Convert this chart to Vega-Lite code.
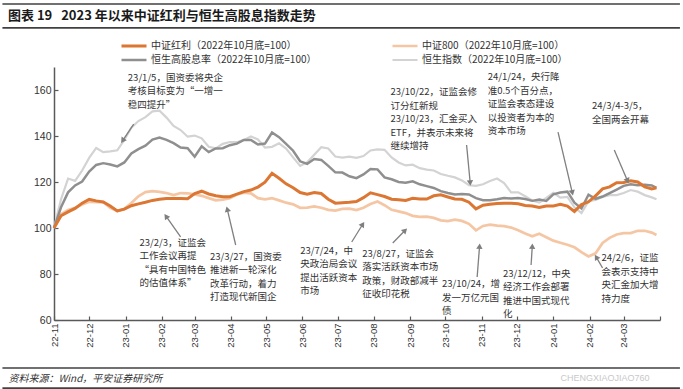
{
  "$schema": "https://vega.github.io/schema/vega-lite/v6.json",
  "width": 606,
  "height": 253,
  "autosize": {"type": "none"},
  "padding": {"left": 54, "top": 67, "right": 23, "bottom": 69},
  "background": "#ffffff",
  "config": {"view": {"stroke": null}, "font": "Noto Sans CJK SC", "axis": {"grid": false}},
  "title": {"text": "图表 19\u00a0\u00a0\u00a02023 年以来中证红利与恒生高股息指数走势", "anchor": "start", "frame": "group", "dx": -46, "dy": 23, "offset": 1, "fontSize": 13, "fontWeight": "bold", "font": "Noto Sans CJK SC", "color": "#1a1a1a"},
  "datasets": {
    "series": [
{"d":"2022-11-01","s":"恒生指数","v":100},{"d":"2022-11-07","s":"恒生指数","v":112.5},{"d":"2022-11-13","s":"恒生指数","v":121.5},{"d":"2022-11-19","s":"恒生指数","v":120.5},{"d":"2022-11-25","s":"恒生指数","v":125},{"d":"2022-12-01","s":"恒生指数","v":130.5},{"d":"2022-12-07","s":"恒生指数","v":134.8},{"d":"2022-12-13","s":"恒生指数","v":133},{"d":"2022-12-19","s":"恒生指数","v":133.3},{"d":"2022-12-25","s":"恒生指数","v":133.8},{"d":"2022-12-31","s":"恒生指数","v":138.3},{"d":"2023-01-06","s":"恒生指数","v":143.6},{"d":"2023-01-12","s":"恒生指数","v":146.5},{"d":"2023-01-18","s":"恒生指数","v":148.2},{"d":"2023-01-24","s":"恒生指数","v":150.7},{"d":"2023-01-30","s":"恒生指数","v":151},{"d":"2023-02-05","s":"恒生指数","v":148},{"d":"2023-02-11","s":"恒生指数","v":144.4},{"d":"2023-02-17","s":"恒生指数","v":142.6},{"d":"2023-02-23","s":"恒生指数","v":139.7},{"d":"2023-03-01","s":"恒生指数","v":140.2},{"d":"2023-03-07","s":"恒生指数","v":139},{"d":"2023-03-13","s":"恒生指数","v":135.3},{"d":"2023-03-19","s":"恒生指数","v":134.6},{"d":"2023-03-25","s":"恒生指数","v":136.6},{"d":"2023-03-31","s":"恒生指数","v":137.4},{"d":"2023-04-06","s":"恒生指数","v":137.3},{"d":"2023-04-12","s":"恒生指数","v":138.3},{"d":"2023-04-18","s":"恒生指数","v":139.8},{"d":"2023-04-24","s":"恒生指数","v":138.5},{"d":"2023-04-30","s":"恒生指数","v":135},{"d":"2023-05-06","s":"恒生指数","v":135.3},{"d":"2023-05-12","s":"恒生指数","v":136.8},{"d":"2023-05-18","s":"恒生指数","v":134.5},{"d":"2023-05-24","s":"恒生指数","v":130.7},{"d":"2023-05-30","s":"恒生指数","v":127},{"d":"2023-06-05","s":"恒生指数","v":128.6},{"d":"2023-06-11","s":"恒生指数","v":131.9},{"d":"2023-06-17","s":"恒生指数","v":135.1},{"d":"2023-06-23","s":"恒生指数","v":134.6},{"d":"2023-06-29","s":"恒生指数","v":131.1},{"d":"2023-07-05","s":"恒生指数","v":130.6},{"d":"2023-07-11","s":"恒生指数","v":131},{"d":"2023-07-17","s":"恒生指数","v":130.5},{"d":"2023-07-23","s":"恒生指数","v":131.3},{"d":"2023-07-29","s":"恒生指数","v":133.7},{"d":"2023-08-04","s":"恒生指数","v":134.2},{"d":"2023-08-10","s":"恒生指数","v":134},{"d":"2023-08-16","s":"恒生指数","v":130.7},{"d":"2023-08-22","s":"恒生指数","v":128.5},{"d":"2023-08-28","s":"恒生指数","v":127.2},{"d":"2023-09-03","s":"恒生指数","v":127.5},{"d":"2023-09-09","s":"恒生指数","v":126},{"d":"2023-09-15","s":"恒生指数","v":125.4},{"d":"2023-09-21","s":"恒生指数","v":125},{"d":"2023-09-27","s":"恒生指数","v":123.5},{"d":"2023-10-03","s":"恒生指数","v":122.7},{"d":"2023-10-09","s":"恒生指数","v":122},{"d":"2023-10-15","s":"恒生指数","v":120.7},{"d":"2023-10-21","s":"恒生指数","v":118.6},{"d":"2023-10-27","s":"恒生指数","v":118.3},{"d":"2023-11-02","s":"恒生指数","v":119},{"d":"2023-11-08","s":"恒生指数","v":120.4},{"d":"2023-11-14","s":"恒生指数","v":121.5},{"d":"2023-11-20","s":"恒生指数","v":119.5},{"d":"2023-11-26","s":"恒生指数","v":115.5},{"d":"2023-12-02","s":"恒生指数","v":115.5},{"d":"2023-12-08","s":"恒生指数","v":113.8},{"d":"2023-12-14","s":"恒生指数","v":112},{"d":"2023-12-20","s":"恒生指数","v":111.1},{"d":"2023-12-26","s":"恒生指数","v":113.1},{"d":"2024-01-01","s":"恒生指数","v":115.3},{"d":"2024-01-07","s":"恒生指数","v":113.2},{"d":"2024-01-13","s":"恒生指数","v":113.5},{"d":"2024-01-19","s":"恒生指数","v":109},{"d":"2024-01-25","s":"恒生指数","v":106.5},{"d":"2024-01-31","s":"恒生指数","v":111.7},{"d":"2024-02-06","s":"恒生指数","v":112.2},{"d":"2024-02-12","s":"恒生指数","v":113.5},{"d":"2024-02-18","s":"恒生指数","v":114.3},{"d":"2024-02-24","s":"恒生指数","v":114.3},{"d":"2024-03-01","s":"恒生指数","v":115.2},{"d":"2024-03-07","s":"恒生指数","v":116.5},{"d":"2024-03-13","s":"恒生指数","v":115.8},{"d":"2024-03-19","s":"恒生指数","v":114.3},{"d":"2024-03-25","s":"恒生指数","v":113.3},{"d":"2024-03-29","s":"恒生指数","v":112.5},
{"d":"2022-11-01","s":"中证800","v":100},{"d":"2022-11-07","s":"中证800","v":106},{"d":"2022-11-13","s":"中证800","v":107.8},{"d":"2022-11-19","s":"中证800","v":108.8},{"d":"2022-11-25","s":"中证800","v":110.2},{"d":"2022-12-01","s":"中证800","v":111.4},{"d":"2022-12-07","s":"中证800","v":111.3},{"d":"2022-12-13","s":"中证800","v":111.3},{"d":"2022-12-19","s":"中证800","v":108.8},{"d":"2022-12-25","s":"中证800","v":107.4},{"d":"2022-12-31","s":"中证800","v":108.3},{"d":"2023-01-06","s":"中证800","v":110.9},{"d":"2023-01-12","s":"中证800","v":113.8},{"d":"2023-01-18","s":"中证800","v":115.6},{"d":"2023-01-24","s":"中证800","v":116},{"d":"2023-01-30","s":"中证800","v":115.7},{"d":"2023-02-05","s":"中证800","v":115.2},{"d":"2023-02-11","s":"中证800","v":114.3},{"d":"2023-02-17","s":"中证800","v":115.2},{"d":"2023-02-23","s":"中证800","v":115.1},{"d":"2023-03-01","s":"中证800","v":114.6},{"d":"2023-03-07","s":"中证800","v":114},{"d":"2023-03-13","s":"中证800","v":113},{"d":"2023-03-19","s":"中证800","v":112},{"d":"2023-03-25","s":"中证800","v":112.3},{"d":"2023-03-31","s":"中证800","v":113},{"d":"2023-04-06","s":"中证800","v":114.6},{"d":"2023-04-12","s":"中证800","v":115.4},{"d":"2023-04-18","s":"中证800","v":115.1},{"d":"2023-04-24","s":"中证800","v":113},{"d":"2023-04-30","s":"中证800","v":112.5},{"d":"2023-05-06","s":"中证800","v":113},{"d":"2023-05-12","s":"中证800","v":112},{"d":"2023-05-18","s":"中证800","v":111},{"d":"2023-05-24","s":"中证800","v":110.3},{"d":"2023-05-30","s":"中证800","v":108.8},{"d":"2023-06-05","s":"中证800","v":108.9},{"d":"2023-06-11","s":"中证800","v":109.4},{"d":"2023-06-17","s":"中证800","v":108.8},{"d":"2023-06-23","s":"中证800","v":107.9},{"d":"2023-06-29","s":"中证800","v":107.6},{"d":"2023-07-05","s":"中证800","v":108.3},{"d":"2023-07-11","s":"中证800","v":108.4},{"d":"2023-07-17","s":"中证800","v":107.8},{"d":"2023-07-23","s":"中证800","v":108.8},{"d":"2023-07-29","s":"中证800","v":110.4},{"d":"2023-08-04","s":"中证800","v":111.5},{"d":"2023-08-10","s":"中证800","v":109.9},{"d":"2023-08-16","s":"中证800","v":107.9},{"d":"2023-08-22","s":"中证800","v":107.2},{"d":"2023-08-28","s":"中证800","v":106.5},{"d":"2023-09-03","s":"中证800","v":105.3},{"d":"2023-09-09","s":"中证800","v":104.8},{"d":"2023-09-15","s":"中证800","v":104.9},{"d":"2023-09-21","s":"中证800","v":104.4},{"d":"2023-09-27","s":"中证800","v":103.3},{"d":"2023-10-03","s":"中证800","v":103},{"d":"2023-10-09","s":"中证800","v":103.6},{"d":"2023-10-15","s":"中证800","v":103.1},{"d":"2023-10-21","s":"中证800","v":101.8},{"d":"2023-10-27","s":"中证800","v":99},{"d":"2023-11-02","s":"中证800","v":100.9},{"d":"2023-11-08","s":"中证800","v":101.5},{"d":"2023-11-14","s":"中证800","v":101},{"d":"2023-11-20","s":"中证800","v":100.8},{"d":"2023-11-26","s":"中证800","v":100.2},{"d":"2023-12-02","s":"中证800","v":99},{"d":"2023-12-08","s":"中证800","v":97.6},{"d":"2023-12-14","s":"中证800","v":96.4},{"d":"2023-12-20","s":"中证800","v":97.5},{"d":"2023-12-26","s":"中证800","v":96},{"d":"2024-01-01","s":"中证800","v":94.5},{"d":"2024-01-07","s":"中证800","v":93.6},{"d":"2024-01-13","s":"中证800","v":92.7},{"d":"2024-01-19","s":"中证800","v":91.6},{"d":"2024-01-25","s":"中证800","v":89.5},{"d":"2024-01-31","s":"中证800","v":87.6},{"d":"2024-02-06","s":"中证800","v":89},{"d":"2024-02-12","s":"中证800","v":93.5},{"d":"2024-02-18","s":"中证800","v":95.7},{"d":"2024-02-24","s":"中证800","v":97.2},{"d":"2024-03-01","s":"中证800","v":97.8},{"d":"2024-03-07","s":"中证800","v":97.8},{"d":"2024-03-13","s":"中证800","v":98.8},{"d":"2024-03-19","s":"中证800","v":98.8},{"d":"2024-03-25","s":"中证800","v":98},{"d":"2024-03-29","s":"中证800","v":97},
{"d":"2022-11-01","s":"恒生高股息率","v":100},{"d":"2022-11-07","s":"恒生高股息率","v":109},{"d":"2022-11-13","s":"恒生高股息率","v":115.5},{"d":"2022-11-19","s":"恒生高股息率","v":118.5},{"d":"2022-11-25","s":"恒生高股息率","v":120.2},{"d":"2022-12-01","s":"恒生高股息率","v":124.5},{"d":"2022-12-07","s":"恒生高股息率","v":127.4},{"d":"2022-12-13","s":"恒生高股息率","v":128.2},{"d":"2022-12-19","s":"恒生高股息率","v":127.6},{"d":"2022-12-25","s":"恒生高股息率","v":126.8},{"d":"2022-12-31","s":"恒生高股息率","v":128.5},{"d":"2023-01-06","s":"恒生高股息率","v":132.4},{"d":"2023-01-12","s":"恒生高股息率","v":134.3},{"d":"2023-01-18","s":"恒生高股息率","v":135.8},{"d":"2023-01-24","s":"恒生高股息率","v":138.4},{"d":"2023-01-30","s":"恒生高股息率","v":139.3},{"d":"2023-02-05","s":"恒生高股息率","v":138.3},{"d":"2023-02-11","s":"恒生高股息率","v":136.9},{"d":"2023-02-17","s":"恒生高股息率","v":135},{"d":"2023-02-23","s":"恒生高股息率","v":134.7},{"d":"2023-03-01","s":"恒生高股息率","v":131},{"d":"2023-03-07","s":"恒生高股息率","v":135.5},{"d":"2023-03-13","s":"恒生高股息率","v":133},{"d":"2023-03-19","s":"恒生高股息率","v":134.6},{"d":"2023-03-25","s":"恒生高股息率","v":134.7},{"d":"2023-03-31","s":"恒生高股息率","v":136},{"d":"2023-04-06","s":"恒生高股息率","v":136.7},{"d":"2023-04-12","s":"恒生高股息率","v":138.3},{"d":"2023-04-18","s":"恒生高股息率","v":138.3},{"d":"2023-04-24","s":"恒生高股息率","v":136.3},{"d":"2023-04-30","s":"恒生高股息率","v":136.7},{"d":"2023-05-06","s":"恒生高股息率","v":141.5},{"d":"2023-05-12","s":"恒生高股息率","v":139.5},{"d":"2023-05-18","s":"恒生高股息率","v":136.6},{"d":"2023-05-24","s":"恒生高股息率","v":133.6},{"d":"2023-05-30","s":"恒生高股息率","v":129},{"d":"2023-06-05","s":"恒生高股息率","v":127.9},{"d":"2023-06-11","s":"恒生高股息率","v":130},{"d":"2023-06-17","s":"恒生高股息率","v":129.6},{"d":"2023-06-23","s":"恒生高股息率","v":127},{"d":"2023-06-29","s":"恒生高股息率","v":124.2},{"d":"2023-07-05","s":"恒生高股息率","v":124.1},{"d":"2023-07-11","s":"恒生高股息率","v":122.5},{"d":"2023-07-17","s":"恒生高股息率","v":121.7},{"d":"2023-07-23","s":"恒生高股息率","v":123.3},{"d":"2023-07-29","s":"恒生高股息率","v":125.6},{"d":"2023-08-04","s":"恒生高股息率","v":125.5},{"d":"2023-08-10","s":"恒生高股息率","v":122},{"d":"2023-08-16","s":"恒生高股息率","v":121.2},{"d":"2023-08-22","s":"恒生高股息率","v":120},{"d":"2023-08-28","s":"恒生高股息率","v":119.7},{"d":"2023-09-03","s":"恒生高股息率","v":120.3},{"d":"2023-09-09","s":"恒生高股息率","v":119},{"d":"2023-09-15","s":"恒生高股息率","v":118.2},{"d":"2023-09-21","s":"恒生高股息率","v":117.4},{"d":"2023-09-27","s":"恒生高股息率","v":116},{"d":"2023-10-03","s":"恒生高股息率","v":115.2},{"d":"2023-10-09","s":"恒生高股息率","v":114.6},{"d":"2023-10-15","s":"恒生高股息率","v":114.8},{"d":"2023-10-21","s":"恒生高股息率","v":114.6},{"d":"2023-10-27","s":"恒生高股息率","v":113},{"d":"2023-11-02","s":"恒生高股息率","v":112.1},{"d":"2023-11-08","s":"恒生高股息率","v":112.1},{"d":"2023-11-14","s":"恒生高股息率","v":112.5},{"d":"2023-11-20","s":"恒生高股息率","v":113},{"d":"2023-11-26","s":"恒生高股息率","v":112.8},{"d":"2023-12-02","s":"恒生高股息率","v":113},{"d":"2023-12-08","s":"恒生高股息率","v":112.6},{"d":"2023-12-14","s":"恒生高股息率","v":111.8},{"d":"2023-12-20","s":"恒生高股息率","v":112.4},{"d":"2023-12-26","s":"恒生高股息率","v":111.8},{"d":"2024-01-01","s":"恒生高股息率","v":114.6},{"d":"2024-01-07","s":"恒生高股息率","v":115.4},{"d":"2024-01-13","s":"恒生高股息率","v":115.8},{"d":"2024-01-19","s":"恒生高股息率","v":111},{"d":"2024-01-25","s":"恒生高股息率","v":108.5},{"d":"2024-01-31","s":"恒生高股息率","v":114.5},{"d":"2024-02-06","s":"恒生高股息率","v":112.7},{"d":"2024-02-12","s":"恒生高股息率","v":113.7},{"d":"2024-02-18","s":"恒生高股息率","v":115.2},{"d":"2024-02-24","s":"恒生高股息率","v":116.7},{"d":"2024-03-01","s":"恒生高股息率","v":118.3},{"d":"2024-03-07","s":"恒生高股息率","v":119},{"d":"2024-03-13","s":"恒生高股息率","v":118.6},{"d":"2024-03-19","s":"恒生高股息率","v":118.8},{"d":"2024-03-25","s":"恒生高股息率","v":118.5},{"d":"2024-03-29","s":"恒生高股息率","v":117.5},
{"d":"2022-11-01","s":"中证红利","v":100},{"d":"2022-11-07","s":"中证红利","v":105.3},{"d":"2022-11-13","s":"中证红利","v":107},{"d":"2022-11-19","s":"中证红利","v":108.5},{"d":"2022-11-25","s":"中证红利","v":110.8},{"d":"2022-12-01","s":"中证红利","v":112.5},{"d":"2022-12-07","s":"中证红利","v":111.8},{"d":"2022-12-13","s":"中证红利","v":111.3},{"d":"2022-12-19","s":"中证红利","v":109.6},{"d":"2022-12-25","s":"中证红利","v":107.4},{"d":"2022-12-31","s":"中证红利","v":108.2},{"d":"2023-01-06","s":"中证红利","v":109.7},{"d":"2023-01-12","s":"中证红利","v":110.5},{"d":"2023-01-18","s":"中证红利","v":111.2},{"d":"2023-01-24","s":"中证红利","v":112},{"d":"2023-01-30","s":"中证红利","v":112.5},{"d":"2023-02-05","s":"中证红利","v":112.8},{"d":"2023-02-11","s":"中证红利","v":112.8},{"d":"2023-02-17","s":"中证红利","v":112.8},{"d":"2023-02-23","s":"中证红利","v":112.7},{"d":"2023-03-01","s":"中证红利","v":115},{"d":"2023-03-07","s":"中证红利","v":116},{"d":"2023-03-13","s":"中证红利","v":114.8},{"d":"2023-03-19","s":"中证红利","v":114},{"d":"2023-03-25","s":"中证红利","v":113.6},{"d":"2023-03-31","s":"中证红利","v":113.6},{"d":"2023-04-06","s":"中证红利","v":114.7},{"d":"2023-04-12","s":"中证红利","v":115.8},{"d":"2023-04-18","s":"中证红利","v":116.5},{"d":"2023-04-24","s":"中证红利","v":117.8},{"d":"2023-04-30","s":"中证红利","v":119.9},{"d":"2023-05-06","s":"中证红利","v":123.8},{"d":"2023-05-12","s":"中证红利","v":121.6},{"d":"2023-05-18","s":"中证红利","v":119.2},{"d":"2023-05-24","s":"中证红利","v":117.5},{"d":"2023-05-30","s":"中证红利","v":115.4},{"d":"2023-06-05","s":"中证红利","v":114.7},{"d":"2023-06-11","s":"中证红利","v":115.4},{"d":"2023-06-17","s":"中证红利","v":115},{"d":"2023-06-23","s":"中证红利","v":112.5},{"d":"2023-06-29","s":"中证红利","v":110.8},{"d":"2023-07-05","s":"中证红利","v":111},{"d":"2023-07-11","s":"中证红利","v":111.2},{"d":"2023-07-17","s":"中证红利","v":111.5},{"d":"2023-07-23","s":"中证红利","v":113.2},{"d":"2023-07-29","s":"中证红利","v":115.3},{"d":"2023-08-04","s":"中证红利","v":114.5},{"d":"2023-08-10","s":"中证红利","v":113.7},{"d":"2023-08-16","s":"中证红利","v":112.5},{"d":"2023-08-22","s":"中证红利","v":112.3},{"d":"2023-08-28","s":"中证红利","v":112},{"d":"2023-09-03","s":"中证红利","v":112.9},{"d":"2023-09-09","s":"中证红利","v":112.6},{"d":"2023-09-15","s":"中证红利","v":112.6},{"d":"2023-09-21","s":"中证红利","v":114},{"d":"2023-09-27","s":"中证红利","v":114.4},{"d":"2023-10-03","s":"中证红利","v":113.5},{"d":"2023-10-09","s":"中证红利","v":112.6},{"d":"2023-10-15","s":"中证红利","v":112.5},{"d":"2023-10-21","s":"中证红利","v":111.2},{"d":"2023-10-27","s":"中证红利","v":108.3},{"d":"2023-11-02","s":"中证红利","v":109.9},{"d":"2023-11-08","s":"中证红利","v":110.3},{"d":"2023-11-14","s":"中证红利","v":110.7},{"d":"2023-11-20","s":"中证红利","v":110.8},{"d":"2023-11-26","s":"中证红利","v":110.8},{"d":"2023-12-02","s":"中证红利","v":110.5},{"d":"2023-12-08","s":"中证红利","v":109.8},{"d":"2023-12-14","s":"中证红利","v":109.6},{"d":"2023-12-20","s":"中证红利","v":108.9},{"d":"2023-12-26","s":"中证红利","v":109.6},{"d":"2024-01-01","s":"中证红利","v":109.6},{"d":"2024-01-07","s":"中证红利","v":110.3},{"d":"2024-01-13","s":"中证红利","v":109.5},{"d":"2024-01-19","s":"中证红利","v":107.2},{"d":"2024-01-25","s":"中证红利","v":110.2},{"d":"2024-01-31","s":"中证红利","v":111.4},{"d":"2024-02-06","s":"中证红利","v":114},{"d":"2024-02-12","s":"中证红利","v":117},{"d":"2024-02-18","s":"中证红利","v":117.9},{"d":"2024-02-24","s":"中证红利","v":119.7},{"d":"2024-03-01","s":"中证红利","v":119.8},{"d":"2024-03-07","s":"中证红利","v":120.5},{"d":"2024-03-13","s":"中证红利","v":120},{"d":"2024-03-19","s":"中证红利","v":117.9},{"d":"2024-03-25","s":"中证红利","v":117},{"d":"2024-03-29","s":"中证红利","v":117.5}
    ],
    "ann": [
      {"d":"2023-01-03","v":167.4,"t":["23/1/5，国资委将央企","考核目标变为“一增一","稳四提升”"]},
      {"d":"2023-01-13","v":95.7,"t":["23/2/3，证监会","工作会议再提","“具有中国特色","的估值体系”"]},
      {"d":"2023-03-14","v":89.6,"t":["23/3/27，国资委","推进新一轮深化","改革行动，着力","打造现代新国企"]},
      {"d":"2023-05-30","v":92.2,"t":["23/7/24，中","央政治局会议","提出活跃资本","市场"]},
      {"d":"2023-07-22","v":90.9,"t":["23/8/27，证监会","落实活跃资本市场","政策，财政部减半","征收印花税"]},
      {"d":"2023-08-15","v":161.3,"t":["23/10/22，证监会修","订分红新规","23/10/23，汇金买入","ETF，并表示未来将","继续增持"]},
      {"d":"2023-09-28","v":77.8,"t":["23/10/24，增","发一万亿元国","债"]},
      {"d":"2023-11-19","v":82.2,"t":["23/12/12，中央","经济工作会部署","推进中国式现代","化"]},
      {"d":"2023-11-06","v":167.8,"t":["24/1/24，央行降","准0.5个百分点，","证监会表态建设","以投资者为本的","资本市场"]},
      {"d":"2024-02-03","v":155.2,"t":["24/3/4-3/5，","全国两会开幕"]},
      {"d":"2024-02-11","v":89.1,"t":["24/2/6，证监","会表示支持中","央汇金加大增","持力度"]}
    ],
    "arrows": [
      {"d":"2023-01-08","v":145.2,"d2":"2022-12-30","v2":138.3},
      {"d":"2023-02-17","v":96.1,"d2":"2023-02-05","v2":104.8},
      {"d":"2023-04-05","v":92.6,"d2":"2023-03-29","v2":107.8},
      {"d":"2023-07-13","v":93.9,"d2":"2023-07-22","v2":101.3},
      {"d":"2023-08-17","v":93.5,"d2":"2023-08-27","v2":98.7},
      {"d":"2023-10-19","v":136.1,"d2":"2023-10-22","v2":120},
      {"d":"2023-10-28","v":78.7,"d2":"2023-10-30","v2":91.7},
      {"d":"2023-12-13","v":83.9,"d2":"2023-12-14","v2":91.7},
      {"d":"2024-01-05","v":141.7,"d2":"2024-01-17","v2":115.7},
      {"d":"2024-02-22","v":133.9,"d2":"2024-03-04","v2":120.9},
      {"d":"2024-02-12","v":82.6,"d2":"2024-02-07","v2":87}
    ],
    "borders": [
      {"d":"2022-09-18","v":197.4,"k":"top"},{"d":"2022-11-02","v":197.4,"k":"top"},{"d":"2024-03-30","v":197.4,"k":"top"},{"d":"2024-04-18","v":197.4,"k":"top"},
      {"d":"2022-09-18","v":187,"k":"sub"},{"d":"2022-11-02","v":187,"k":"sub"},{"d":"2024-03-30","v":187,"k":"sub"},{"d":"2024-04-18","v":187,"k":"sub"},
      {"d":"2022-09-18","v":39.1,"k":"foot1"},{"d":"2022-11-02","v":39.1,"k":"foot1"},{"d":"2024-03-30","v":39.1,"k":"foot1"},{"d":"2024-04-18","v":39.1,"k":"foot1"},
      {"d":"2022-09-18","v":30.4,"k":"foot2"},{"d":"2022-11-02","v":30.4,"k":"foot2"},{"d":"2024-03-30","v":30.4,"k":"foot2"},{"d":"2024-04-18","v":30.4,"k":"foot2"}
    ]
  },
  "encoding": {
    "x": {"field": "d", "type": "temporal",
      "scale": {"domain": [{"year": 2022, "month": 11, "date": 1}, {"year": 2024, "month": 4, "date": 1}], "nice": false},
      "axis": {"title": "资料来源：Wind，平安证券研究所", "titleFont": "Noto Sans CJK SC", "titleFontSize": 10, "titleFontStyle": "italic", "titleFontWeight": "normal", "titleColor": "#333333", "titleAlign": "left", "titleAnchor": "start", "titleX": -46, "titleY": 58, "titleBaseline": "middle",
        "tickCount": {"interval": "month", "step": 1}, "labelExpr": "(year(datum.value) == 2024 && month(datum.value) == 3) ? '' : timeFormat(datum.value, '%y-%m')",
        "labelAngle": 270, "labelFont": "Liberation Sans", "labelFontSize": 9.5, "labelColor": "#333333", "labelPadding": 7, "labelOverlap": false, "labelFlush": false,
        "domainColor": "#595959", "domainWidth": 1.5, "tickColor": "#595959", "tickWidth": 1.2, "tickSize": -4, "grid": false}},
    "y": {"field": "v", "type": "quantitative",
      "scale": {"domain": [60, 170], "nice": false, "zero": false},
      "axis": {"title": null, "values": [60, 80, 100, 120, 140, 160], "labelFont": "Liberation Sans", "labelFontSize": 10.5, "labelColor": "#333333", "labelPadding": 7,
        "domainColor": "#595959", "domainWidth": 1.5, "tickColor": "#595959", "tickWidth": 1.2, "tickSize": -4, "grid": false}}
  },
  "layer": [
    {"data": {"name": "borders"}, "mark": {"type": "line", "color": "#404040", "strokeWidth": 1.6, "clip": false}, "encoding": {"detail": {"field": "k", "type": "nominal"}}},
    {"data": {"name": "series"},
      "encoding": {
        "color": {"field": "s", "type": "nominal",
          "scale": {"domain": ["中证红利", "中证800", "恒生高股息率", "恒生指数"], "range": ["#DC7633", "#F5C6A4", "#8F8F8F", "#D3D3D3"]},
          "legend": {"orient": "none", "legendX": 66, "legendY": -28, "direction": "horizontal", "columns": 2, "columnPadding": 74, "rowPadding": 0, "clipHeight": 14, "title": null, "symbolType": "stroke", "symbolSize": 625, "labelFont": "Noto Sans CJK SC", "labelFontSize": 10, "labelColor": "#333333", "labelOffset": 3, "labelLimit": 300, "labelExpr": "datum.label + '（2022年10月底=100）'"}},
        "strokeWidth": {"field": "s", "type": "nominal",
          "scale": {"domain": ["中证红利", "中证800", "恒生高股息率", "恒生指数"], "range": [3, 2.2, 2.6, 2.6]},
          "legend": {"orient": "none", "legendX": 66, "legendY": -28, "direction": "horizontal", "columns": 2, "columnPadding": 74, "rowPadding": 0, "clipHeight": 14, "title": null, "symbolType": "stroke", "symbolSize": 625, "labelFont": "Noto Sans CJK SC", "labelFontSize": 10, "labelColor": "#333333", "labelOffset": 3, "labelLimit": 300, "labelExpr": "datum.label + '（2022年10月底=100）'"}}
      },
      "layer": [
        {"transform": [{"filter": "datum.s === '恒生指数'"}], "mark": {"type": "line"}},
        {"transform": [{"filter": "datum.s === '中证800'"}], "mark": {"type": "line"}},
        {"transform": [{"filter": "datum.s === '恒生高股息率'"}], "mark": {"type": "line"}},
        {"transform": [{"filter": "datum.s === '中证红利'"}], "mark": {"type": "line"}}
      ]
    },
    {"data": {"name": "arrows"}, "mark": {"type": "rule", "color": "#7F7F7F", "strokeWidth": 1.3}, "encoding": {"x2": {"field": "d2"}, "y2": {"field": "v2"}}},
    {"data": {"values": [{"d": "2022-12-30", "v": 138.3}]}, "mark": {"type": "point", "shape": "triangle", "filled": true, "size": 40, "color": "#7F7F7F", "opacity": 1, "angle": 214.5}},
    {"data": {"values": [{"d": "2023-02-05", "v": 104.8}]}, "mark": {"type": "point", "shape": "triangle", "filled": true, "size": 40, "color": "#7F7F7F", "opacity": 1, "angle": 325}},
    {"data": {"values": [{"d": "2023-03-29", "v": 107.8}]}, "mark": {"type": "point", "shape": "triangle", "filled": true, "size": 40, "color": "#7F7F7F", "opacity": 1, "angle": 345.6}},
    {"data": {"values": [{"d": "2023-07-22", "v": 101.3}]}, "mark": {"type": "point", "shape": "triangle", "filled": true, "size": 40, "color": "#7F7F7F", "opacity": 1, "angle": 32.9}},
    {"data": {"values": [{"d": "2023-08-27", "v": 98.7}]}, "mark": {"type": "point", "shape": "triangle", "filled": true, "size": 40, "color": "#7F7F7F", "opacity": 1, "angle": 45}},
    {"data": {"values": [{"d": "2023-10-22", "v": 120}]}, "mark": {"type": "point", "shape": "triangle", "filled": true, "size": 40, "color": "#7F7F7F", "opacity": 1, "angle": 175.4}},
    {"data": {"values": [{"d": "2023-10-30", "v": 91.7}]}, "mark": {"type": "point", "shape": "triangle", "filled": true, "size": 40, "color": "#7F7F7F", "opacity": 1, "angle": 3.8}},
    {"data": {"values": [{"d": "2023-12-14", "v": 91.7}]}, "mark": {"type": "point", "shape": "triangle", "filled": true, "size": 40, "color": "#7F7F7F", "opacity": 1, "angle": 3.2}},
    {"data": {"values": [{"d": "2024-01-17", "v": 115.7}]}, "mark": {"type": "point", "shape": "triangle", "filled": true, "size": 40, "color": "#7F7F7F", "opacity": 1, "angle": 166.9}},
    {"data": {"values": [{"d": "2024-03-04", "v": 120.9}]}, "mark": {"type": "point", "shape": "triangle", "filled": true, "size": 40, "color": "#7F7F7F", "opacity": 1, "angle": 158.2}},
    {"data": {"values": [{"d": "2024-02-07", "v": 87}]}, "mark": {"type": "point", "shape": "triangle", "filled": true, "size": 40, "color": "#7F7F7F", "opacity": 1, "angle": 329}},
    {"data": {"name": "ann"}, "mark": {"type": "text", "align": "left", "baseline": "top", "font": "Noto Sans CJK SC", "fontSize": 9.5, "lineHeight": 13.5, "color": "#333333"}, "encoding": {"text": {"field": "t"}}},
    {"data": {"values": [{"d": "2024-03-23", "v": 34.8, "t": "CHENGXIAOJIAO760"}]}, "mark": {"type": "text", "align": "right", "baseline": "middle", "font": "Liberation Sans", "fontSize": 9, "color": "#C8C8C8"}, "encoding": {"text": {"field": "t"}}}
  ]
}
